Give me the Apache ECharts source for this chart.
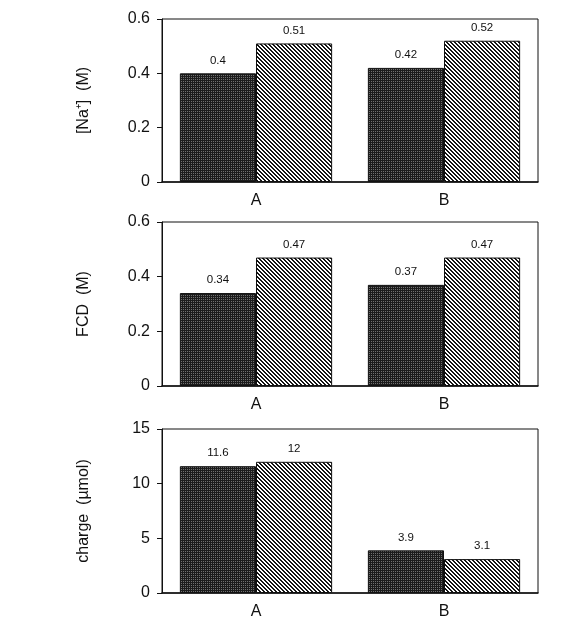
<!DOCTYPE html>
<html><head><meta charset="utf-8">
<style>html,body{margin:0;padding:0;background:#fff}#c{width:579px;height:628px}</style>
<script src="https://cdn.jsdelivr.net/npm/echarts@6/dist/echarts.min.js"></script>
</head><body><div id="c"></div>
<script>
// ---- data ----
const categories = ['A', 'B'];
const naDark = [0.40, 0.42];
const naHatch = [0.51, 0.52];
const fcdDark = [0.34, 0.37];
const fcdHatch = [0.47, 0.47];
const chargeDark = [11.6, 3.9];
const chargeHatch = [12, 3.1];
const naTicks = [0, 0.2, 0.4, 0.6];
const chargeTicks = [0, 5, 10, 15];
const yNames = ['[Na\u207A]  (M)', 'FCD  (M)', 'charge  (\u00B5mol)'];

// ---- patterns ----
function makeHatch() {
  const s = 4, c = document.createElement('canvas');
  c.width = s; c.height = s;
  const g = c.getContext('2d');
  const img = g.createImageData(s, s);
  for (let y = 0; y < s; y++) for (let x = 0; x < s; x++) {
    const d = ((x - y) % s + s) % s;
    const v = (d === 0 || d === 1) ? 20 : 255;
    const i = (y * s + x) * 4;
    img.data[i] = img.data[i + 1] = img.data[i + 2] = v; img.data[i + 3] = 255;
  }
  g.putImageData(img, 0, 0);
  return c;
}
function makeStipple() {
  const c = document.createElement('canvas');
  c.width = 2; c.height = 2;
  const g = c.getContext('2d');
  g.fillStyle = '#1c1c1c'; g.fillRect(0, 0, 2, 2);
  g.fillStyle = '#707070'; g.fillRect(1, 1, 1, 1);
  return c;
}
const hatch = { image: makeHatch(), repeat: 'repeat' };
const stipple = { image: makeStipple(), repeat: 'repeat' };

const font = 'Liberation Sans, Arial, sans-serif';
const tops = [19, 222, 429];
const heights = [163, 164, 164];

const grids = tops.map((t, i) => ({
  left: 162, right: 41, top: t, height: heights[i],
  show: true, borderColor: '#111', borderWidth: 1, backgroundColor: 'transparent'
}));

const xAxes = tops.map((t, i) => ({
  type: 'category', gridIndex: i, data: categories,
  axisLine: { lineStyle: { color: '#111', width: 1.5 } },
  axisTick: { show: false },
  axisLabel: { color: '#111', fontSize: 16, fontFamily: font, margin: 11 }
}));

const yMax = [0.6, 0.6, 15];
const yInt = [0.2, 0.2, 5];
const yAxes = tops.map((t, i) => ({
  type: 'value', gridIndex: i, min: 0, max: yMax[i], interval: yInt[i],
  name: yNames[i], nameLocation: 'middle', nameRotate: 90, nameGap: 70,
  nameTextStyle: { color: '#111', fontSize: 16, fontFamily: font },
  axisLine: { show: true, lineStyle: { color: '#111', width: 1 } },
  axisTick: { show: true, inside: false, length: 5, lineStyle: { color: '#111' } },
  splitLine: { show: false },
  axisLabel: { color: '#111', fontSize: 16, fontFamily: font, margin: 12 }
}));

function bar(data, idx, pattern) {
  return {
    type: 'bar', xAxisIndex: idx, yAxisIndex: idx, data: data,
    barGap: '0%', barCategoryGap: '19%',
    itemStyle: { color: pattern, borderColor: '#111', borderWidth: 1 },
    label: { show: true, position: 'top', distance: 7, color: '#111', fontSize: 11.5, fontFamily: font },
    animation: false
  };
}

const series = [
  bar(naDark, 0, stipple), bar(naHatch, 0, hatch),
  bar(fcdDark, 1, stipple), bar(fcdHatch, 1, hatch),
  bar(chargeDark, 2, stipple), bar(chargeHatch, 2, hatch)
];

const chart = echarts.init(document.getElementById('c'), null, { renderer: 'canvas' });
chart.setOption({
  animation: false,
  grid: grids, xAxis: xAxes, yAxis: yAxes, series: series
});
</script></body></html>
